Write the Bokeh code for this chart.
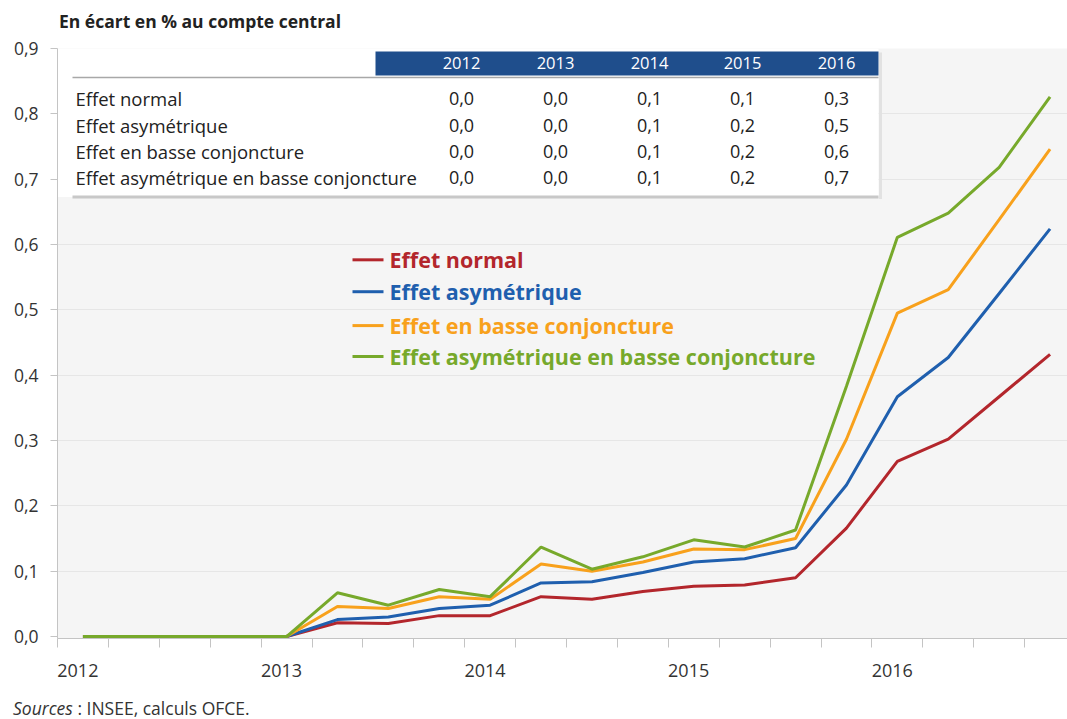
from bokeh.plotting import figure
from bokeh.layouts import column
from bokeh.models import FixedTicker, CustomJSTickFormatter, Range1d, Div
from bokeh.embed import file_html
from bokeh.resources import INLINE
from bokeh.core.properties import value

# ---------------- data ----------------
quarters = ["2012T1", "2012T2", "2012T3", "2012T4",
            "2013T1", "2013T2", "2013T3", "2013T4",
            "2014T1", "2014T2", "2014T3", "2014T4",
            "2015T1", "2015T2", "2015T3", "2015T4",
            "2016T1", "2016T2", "2016T3", "2016T4"]
effet_normal = [0, 0, 0, 0, 0, 0.021, 0.020, 0.032, 0.032, 0.061, 0.057, 0.069,
                0.077, 0.079, 0.090, 0.166, 0.268, 0.302, 0.367, 0.432]
effet_asym = [0, 0, 0, 0, 0, 0.026, 0.030, 0.043, 0.048, 0.082, 0.084, 0.098,
              0.114, 0.119, 0.136, 0.232, 0.367, 0.427, 0.525, 0.624]
effet_basse = [0, 0, 0, 0, 0, 0.046, 0.043, 0.061, 0.057, 0.111, 0.100, 0.114,
               0.134, 0.133, 0.150, 0.302, 0.495, 0.531, 0.638, 0.746]
effet_asym_basse = [0, 0, 0, 0, 0, 0.067, 0.048, 0.072, 0.061, 0.137, 0.103, 0.122,
                    0.148, 0.137, 0.163, 0.383, 0.611, 0.648, 0.718, 0.826]

series_names = ["Effet normal", "Effet asymétrique", "Effet en basse conjoncture",
                "Effet asymétrique en basse conjoncture"]
series_colors = ["#b3262c", "#1f5fae", "#f8a11c", "#77a92b"]
series_values = [effet_normal, effet_asym, effet_basse, effet_asym_basse]

table_years = ["2012", "2013", "2014", "2015", "2016"]
table_rows = [["0,0", "0,0", "0,1", "0,1", "0,3"],
              ["0,0", "0,0", "0,1", "0,2", "0,5"],
              ["0,0", "0,0", "0,1", "0,2", "0,6"],
              ["0,0", "0,0", "0,1", "0,2", "0,7"]]

year_labels = [2012, 2013, 2014, 2015, 2016]
y_ticks = [0.0, 0.1, 0.2, 0.3, 0.4, 0.5, 0.6, 0.7, 0.8, 0.9]

title_text = "En écart en % au compte central"
source_italic = "Sources"
source_rest = " : INSEE, calculs OFCE."

FONT = "Open Sans"
W = 1067
H_TOP, H_MAIN, H_SRC = 34, 662, 23


def qpos(q):
    y, t = q.split("T")
    return int(y) + (int(t) - 1) * 0.25 + 0.125


# pixel helpers (page pixel -> data of the main plot)
def xd(X):
    return 2012 + (X - 57) / 203.6


def yd(Y):
    return (638 - Y) / 655.6


xs = [qpos(q) for q in quarters]

# ---------------- title line ----------------
ttl = Div(text=title_text, width=W, height=H_TOP,
          styles={"font-family": "'Open Sans', sans-serif", "font-size": "17.5px",
                  "font-weight": "bold", "color": "#222222", "padding-left": "59px",
                  "padding-top": "11px", "margin": "0", "line-height": "20px",
                  "box-sizing": "border-box", "white-space": "nowrap"})

# ---------------- main plot ----------------
p = figure(width=W, height=H_MAIN, output_backend="svg", toolbar_location=None,
           x_range=Range1d(2012, xd(1067)), y_range=Range1d(-0.003, 0.9),
           min_border_left=57, min_border_right=0, min_border_top=48 - H_TOP,
           min_border_bottom=H_TOP + H_MAIN - 638,
           background_fill_color="#f5f5f5", border_fill_color="white",
           outline_line_color=None)

p.xaxis.ticker = FixedTicker(ticks=[y + 0.1 for y in year_labels],
                             minor_ticks=[2012 + i * 0.25 for i in range(21)])
p.xaxis.formatter = CustomJSTickFormatter(code="return Math.floor(tick).toString()")
p.xaxis.major_tick_out = 0
p.xaxis.major_tick_in = 0
p.xaxis.minor_tick_out = 9
p.xaxis.minor_tick_in = 0
p.xaxis.minor_tick_line_color = "#c4c4c4"
p.xaxis.axis_line_color = "#c4c4c4"
p.xaxis.major_label_standoff = 16
p.xaxis.major_label_text_font = FONT
p.xaxis.major_label_text_font_size = "18px"
p.xaxis.major_label_text_color = "#333333"

p.yaxis.ticker = FixedTicker(ticks=y_ticks)
p.yaxis.formatter = CustomJSTickFormatter(code="return tick.toFixed(1).replace('.', ',')")
p.yaxis.major_tick_out = 7
p.yaxis.major_tick_in = 0
p.yaxis.minor_tick_out = 0
p.yaxis.major_tick_line_color = "#c4c4c4"
p.yaxis.axis_line_color = "#c4c4c4"
p.yaxis.major_label_standoff = 12
p.yaxis.major_label_text_font = FONT
p.yaxis.major_label_text_font_size = "17.5px"
p.yaxis.major_label_text_color = "#333333"

p.xgrid.grid_line_color = None
p.ygrid.ticker = FixedTicker(ticks=y_ticks[1:])
p.ygrid.grid_line_color = "#e6e6e6"

for vals, col in zip(series_values, series_colors):
    p.line(xs, vals, line_color=col, line_width=3)

# table inset
p.quad(left=[xd(57)], right=[xd(878)], top=[yd(48)], bottom=[yd(197)],
       fill_color="white", line_color=None)
p.segment(x0=[xd(880)], x1=[xd(880)], y0=[yd(52)], y1=[yd(199)],
          line_color="#e2e2e2", line_width=3)
p.quad(left=[xd(375)], right=[xd(878)], top=[yd(51)], bottom=[yd(75)],
       fill_color="#1f4e8c", line_color=None)
p.segment(x0=[xd(72)], x1=[xd(878)], y0=[yd(77)], y1=[yd(77)],
          line_color="#a8a8a8", line_width=1.5)
p.segment(x0=[xd(72)], x1=[xd(878)], y0=[yd(197)], y1=[yd(197)],
          line_color="#c8c8c8", line_width=3)

col_x = [xd(X) for X in (461, 555, 649, 742, 836)]
p.text(x=col_x, y=[yd(63)] * 5, text=table_years, text_font=value(FONT),
       text_font_size="16.5px", text_color="white", text_align="center",
       text_baseline="middle")
row_y = [yd(Y) for Y in (98, 125, 151, 177)]
p.text(x=[xd(75)] * 4, y=row_y, text=series_names, text_font=value(FONT),
       text_font_size="18.5px", text_color="#222222", text_align="left",
       text_baseline="middle")
for r, yy in zip(table_rows, row_y):
    p.text(x=col_x, y=[yy] * 5, text=r, text_font=value(FONT),
           text_font_size="18px", text_color="#222222", text_align="center",
           text_baseline="middle")

# legend
leg_y = [yd(Y) for Y in (260, 292, 326, 357)]
p.segment(x0=[xd(352)] * 4, x1=[xd(383)] * 4, y0=leg_y, y1=leg_y,
          line_color=series_colors, line_width=3)
p.text(x=[xd(389)] * 4, y=leg_y, text=series_names, text_font=value(FONT),
       text_font_size="21.5px", text_font_style="bold", text_color=series_colors,
       text_align="left", text_baseline="middle")

# ---------------- source line ----------------
src = Div(text=f"<i>{source_italic}</i>{source_rest}", width=W, height=H_SRC,
          styles={"font-family": "'Open Sans', sans-serif", "font-size": "17.5px",
                  "color": "#333333", "padding-left": "13px", "padding-top": "3px",
                  "margin": "0", "line-height": "18px", "box-sizing": "border-box",
                  "white-space": "nowrap"})

layout = column(ttl, p, src, spacing=0)
open("out.html", "w").write(file_html(layout, INLINE))
